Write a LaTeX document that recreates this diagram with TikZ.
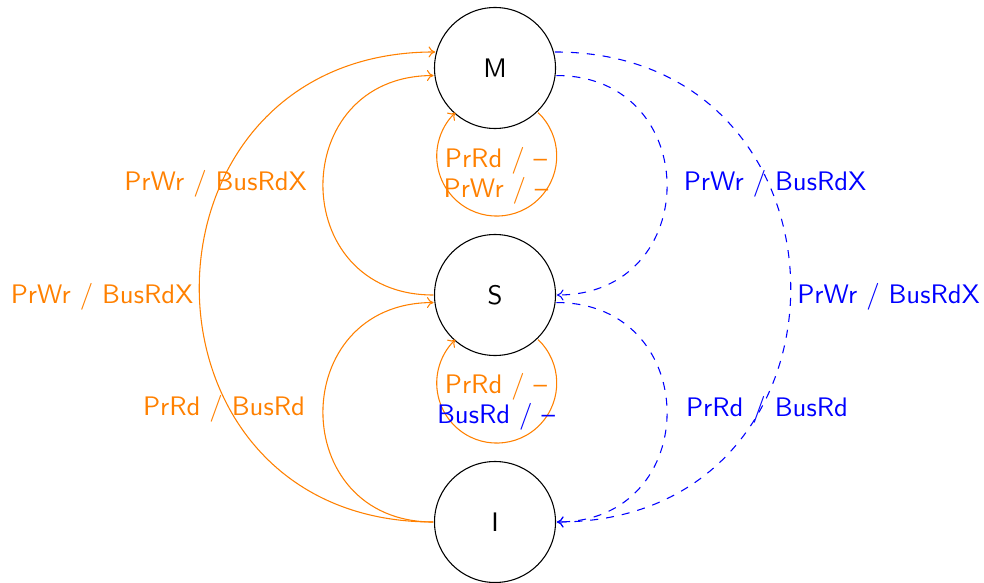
\documentclass[tikz,border=0pt]{standalone}
\usetikzlibrary{arrows.meta}
\begin{document}
\begin{tikzpicture}[x=1pt,y=1pt,
  every node/.style={font=\sffamily\fontsize{10pt}{12pt}\selectfont,scale=2.68,transform shape},
  state/.style={draw=black,line width=1.07pt,circle,minimum size=45.15pt,inner sep=0pt},
  tip/.style={-{To[length=6.6pt,width=11pt]}},
  otr/.style={draw=orange,line width=1.07pt,tip},
  btr/.style={draw=blue,line width=1.07pt,tip,dash pattern=on 8pt off 8pt},
  olbl/.style={text=orange,anchor=base,inner sep=0pt},
  blbl/.style={text=blue,anchor=base,inner sep=0pt}]
\useasboundingbox (0,0) rectangle (984,582);
\node[state] (M) at (495,514) {M};
\node[state] (S) at (495,287) {S};
\node[state] (I) at (495,60) {I};
% orange (processor) transitions
\draw[otr] (I.west) .. controls +(-313,0) and +(-313,0) .. (M.165);
\draw[otr] (S.west) .. controls +(-147,0) and +(-147,0) .. (M.187);
\draw[otr] (I.west) .. controls +(-147,0) and +(-147,0) .. (S.187);
\draw[otr] (M.-46.5) arc[start angle=46.5,end angle=-226.5,radius=60];
\draw[otr] (S.-46.5) arc[start angle=46.5,end angle=-226.5,radius=60];
% blue (bus) transitions
\draw[btr] (M.15) .. controls +(313,0) and +(313,0) .. (I.east);
\draw[btr] (M.-7) .. controls +(147,0) and +(147,0) .. (S.east);
\draw[btr] (S.-7) .. controls +(147,0) and +(147,0) .. (I.east);
% labels
\node[olbl] (l1) at (215.5,392) {PrWr / BusRdX};
\node[olbl] (l2) at (102,279) {PrWr / BusRdX};
\node[olbl] (l3) at (224,167) {PrRd / BusRd};
\node[blbl] (l4) at (775,392) {PrWr / BusRdX};
\node[blbl] (l5) at (888.5,279) {PrWr / BusRdX};
\node[blbl] (l6) at (767,166) {PrRd / BusRd};
\node[olbl] (l7) at (496,414) {PrRd / --};
\node[olbl] (l8) at (496,385) {PrWr / --};
\node[olbl] (l9) at (496,189) {PrRd / --};
\node[blbl] (l10) at (496,159) {BusRd / --};
\end{tikzpicture}
\end{document}
